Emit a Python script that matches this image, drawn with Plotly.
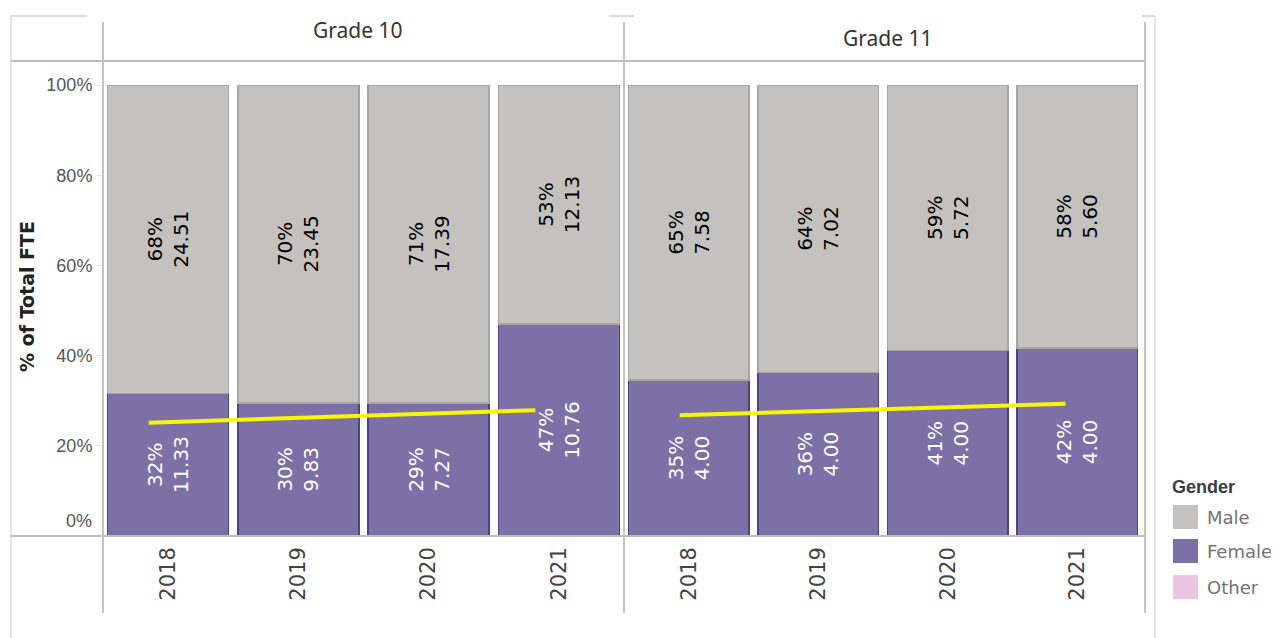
import plotly.graph_objects as go

# ---------------- data ----------------
years = ["2018", "2019", "2020", "2021"]
grades = ["Grade 10", "Grade 11"]

g10_female_pct = [32, 30, 29, 47]
g10_male_pct = [68, 70, 71, 53]
g10_female_fte = [11.33, 9.83, 7.27, 10.76]
g10_male_fte = [24.51, 23.45, 17.39, 12.13]

g11_female_pct = [35, 36, 41, 42]
g11_male_pct = [65, 64, 59, 58]
g11_female_fte = [4.00, 4.00, 4.00, 4.00]
g11_male_fte = [7.58, 7.02, 5.72, 5.60]

# hand-drawn yellow trend lines (start / end, % of total FTE)
g10_trend = [25.1, 27.9]
g11_trend = [26.8, 29.3]

legend_items = ["Male", "Female", "Other"]

# ---------------- style ----------------
W, H = 1279, 638
OFF = 8  # page body margin compensation
MALE = "#c5c1be"
MALE_EDGE = "#aaa5a2"
FEMALE = "#7d70a7"
FEMALE_EDGE = "#4e4381"
OTHER = "#eac6e3"
LEGEND_COLORS = [MALE, FEMALE, OTHER]
GRID = "#bdbdbd"
LIGHT = "#dcdcdc"


def fx(px):
    return (px - OFF) / W


def fy(py):
    return 1 - (py - OFF) / H


fig = go.Figure()

panels = [
    ("x", "y", g10_female_pct, g10_male_pct, g10_female_fte, g10_male_fte, g10_trend, [-0.15, 2.82]),
    ("x2", "y2", g11_female_pct, g11_male_pct, g11_female_fte, g11_male_fte, g11_trend, [-0.07, 2.91]),
]

xs = list(range(len(years)))
for xa, ya, fp, mp, ff, mf, trend, tx in panels:
    fig.add_bar(
        x=xs, y=ff, name="Female", xaxis=xa, yaxis=ya, width=0.93,
        marker=dict(color=FEMALE, line=dict(color=FEMALE_EDGE, width=1.5)),
        text=[f"{p}%<br>{v:.2f}" for p, v in zip(fp, ff)],
        textposition="inside", insidetextanchor="middle", textangle=-90,
        textfont=dict(family="DejaVu Sans", size=20, color="white"),
        showlegend=False, hoverinfo="skip",
    )
    fig.add_bar(
        x=xs, y=mf, name="Male", xaxis=xa, yaxis=ya, width=0.93,
        marker=dict(color=MALE, line=dict(color=MALE_EDGE, width=1.5)),
        text=[f"{p}%<br>{v:.2f}" for p, v in zip(mp, mf)],
        textposition="inside", insidetextanchor="middle", textangle=-90,
        textfont=dict(family="DejaVu Sans", size=20, color="#000000"),
        showlegend=False, hoverinfo="skip",
    )
    fig.add_scatter(
        x=tx, y=trend, mode="lines", xaxis=xa, yaxis=ya,
        line=dict(color="#f7f700", width=4), showlegend=False, hoverinfo="skip",
    )

x_dom1 = [fx(103), fx(624)]
x_dom2 = [fx(624), fx(1142)]
y_dom = [fy(536), fy(85)]

xaxis_common = dict(
    range=[-0.5, 3.5], tickvals=xs, ticktext=years, tickangle=-90,
    tickfont=dict(family="DejaVu Sans", size=21, color="#444444"),
    ticklabelstandoff=6,
    showgrid=False, zeroline=False, showline=False, ticks="", automargin=False,
)
yaxis_common = dict(
    range=[0, 100], domain=y_dom, showgrid=False, zeroline=False, showline=False,
    automargin=False,
)

fig.update_layout(
    width=W, height=H,
    margin=dict(l=0, r=0, t=0, b=0, pad=0, autoexpand=False),
    paper_bgcolor="white", plot_bgcolor="white",
    barmode="stack", barnorm="percent",
    xaxis=dict(domain=x_dom1, anchor="y", **xaxis_common),
    xaxis2=dict(domain=x_dom2, anchor="y2", **xaxis_common),
    yaxis=dict(
        anchor="x", tickvals=[0, 20, 40, 60, 80, 100],
        ticktext=["", "20%", "40%", "60%", "80%", "100%"],
        ticks="outside", ticklen=6, tickcolor="#e4e4e4",
        tickfont=dict(family="Liberation Sans", size=18, color="#555555"),
        **yaxis_common,
    ),
    yaxis2=dict(anchor="x2", matches="y", showticklabels=False, ticks="", **yaxis_common),
    showlegend=False,
)

annotations = [
    dict(text=grades[0], x=fx(358), y=fy(30), xref="paper", yref="paper",
         xanchor="center", yanchor="middle",
         showarrow=False, font=dict(family="Noto Sans", size=21, color="#333333")),
    dict(text=grades[1], x=fx(888), y=fy(38), xref="paper", yref="paper",
         xanchor="center", yanchor="middle",
         showarrow=False, font=dict(family="Noto Sans", size=21, color="#333333")),
    dict(text="<b>% of Total FTE</b>", x=fx(27), y=fy(297), xref="paper", yref="paper",
         xanchor="center", yanchor="middle", showarrow=False, textangle=-90,
         font=dict(family="DejaVu Sans", size=19, color="#222222")),
    dict(text="0%", x=fx(94), y=fy(521), xref="paper", yref="paper",
         xanchor="right", yanchor="middle",
         showarrow=False, font=dict(family="Liberation Sans", size=18, color="#555555")),
    dict(text="<b>Gender</b>", x=fx(1170), y=fy(487), xref="paper", yref="paper",
         xanchor="left", yanchor="middle", showarrow=False,
         font=dict(family="Liberation Sans", size=18, color="#3b3b45")),
]

shapes = []
# legend swatches + labels
legend_rows = [517, 551, 587]
for name, col, cy in zip(legend_items, LEGEND_COLORS, legend_rows):
    shapes.append(dict(type="rect", xref="paper", yref="paper",
                       x0=fx(1173), x1=fx(1198), y0=fy(cy - 12), y1=fy(cy + 12),
                       fillcolor=col, line=dict(width=0)))
    annotations.append(dict(text=name, x=fx(1205), y=fy(cy), xref="paper", yref="paper",
                            xanchor="left", yanchor="middle", showarrow=False,
                            font=dict(family="DejaVu Sans", size=18, color="#737373")))


def hline(y, x0, x1, color, width):
    shapes.append(dict(type="line", xref="paper", yref="paper", x0=fx(x0), x1=fx(x1),
                       y0=fy(y), y1=fy(y), line=dict(color=color, width=width)))


def vline(x, y0, y1, color, width):
    shapes.append(dict(type="line", xref="paper", yref="paper", x0=fx(x), x1=fx(x),
                       y0=fy(y0), y1=fy(y1), line=dict(color=color, width=width)))


# frame lines
hline(61, 10, 1145, GRID, 2)
hline(536, 10, 1145, GRID, 2)
vline(103, 22, 613, "#c4c4c4", 2)
vline(624, 22, 613, "#c4c4c4", 2)
vline(1145, 22, 613, "#c4c4c4", 2)
vline(11, 16, 638, LIGHT, 1.5)
vline(1155, 16, 638, LIGHT, 1.5)
hline(16, 10, 87, LIGHT, 2)
hline(16, 609, 634, LIGHT, 2)
hline(16, 1142, 1155, LIGHT, 2)

fig.update_layout(annotations=annotations, shapes=shapes)

fig.write_html("out.html")
